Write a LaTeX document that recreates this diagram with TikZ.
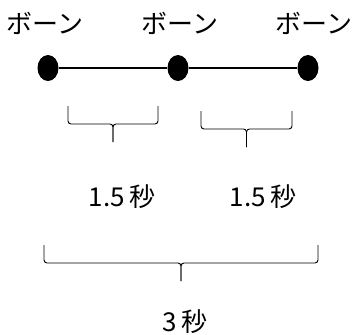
\documentclass[tikz,border=0pt]{standalone}
\usepackage{fontspec}
\setmainfont{Noto Sans CJK JP}
\usetikzlibrary{shapes.geometric,calc}

\tikzset{
  tama/.style={ellipse,fill=black,minimum width=21pt,minimum height=26pt,inner sep=0pt},
  moji/.style={font=\fontsize{26}{26}\selectfont,inner sep=0pt},
  kakko/.style={line width=0.9pt,rounded corners=3pt}
}
% brace below two points: legs of 18 and a tip of 18
\newcommand{\kukuri}[2]{%
  \draw[kakko] (#1) -- ++(0,18) -- ($(#1)!.5!(#2)+(0,18)$) -- ++(0,18);
  \draw[kakko] (#2) -- ++(0,18) -- ($(#1)!.5!(#2)+(0,18)$) -- ++(0,18);}

\begin{document}
\begin{tikzpicture}[x=1pt,y=-1pt]
\useasboundingbox (0,0) rectangle (354,335);

\node [moji] (bon1) at (45,23) {ボーン};
\node [moji] (bon2) at (180,23) {ボーン};
\node [moji] (bon3) at (314,23) {ボーン};

\node [tama] (t1) at (48,68) {};
\node [tama] (t2) at (178,68) {};
\node [tama] (t3) at (308,68) {};
\draw [line width=1.2pt] (t1) -- (t2) -- (t3);

\coordinate (k1l) at (68,106);
\coordinate (k1r) at (158,106);
\coordinate (k2l) at (201,111);
\coordinate (k2r) at (292,111);
\coordinate (k3l) at (44,245);
\coordinate (k3r) at (318,245);
\kukuri{k1l}{k1r}
\kukuri{k2l}{k2r}
\kukuri{k3l}{k3r}

\node [moji] (s1) at (122,197) {1.5\,秒};
\node [moji] (s2) at (263,197) {1.5\,秒};
\node [moji] (s3) at (185,322) {3\,秒};

\end{tikzpicture}
\end{document}
